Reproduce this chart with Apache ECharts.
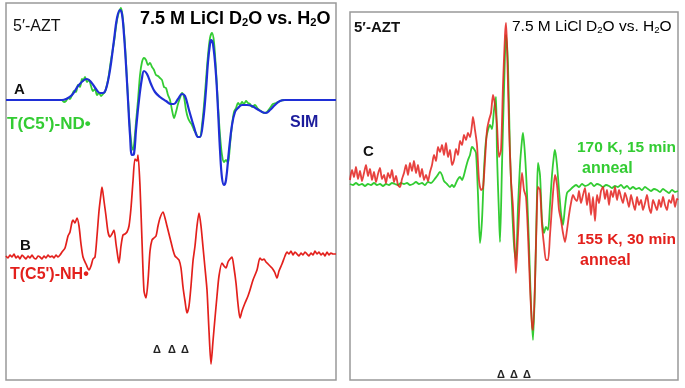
<!DOCTYPE html>
<html>
<head>
<meta charset="utf-8">
<script src="https://cdn.jsdelivr.net/npm/echarts@6/dist/echarts.min.js"></script>
<style>
  html, body { margin: 0; padding: 0; background: #fff; }
  #chart { width: 685px; height: 388px; }
</style>
</head>
<body>
<div id="chart"></div>
<script>
// --- ESR spectra: [field (arb.), amplitude (arb.)] ---

// left panel, spectrum A: simulation (blue) and D2O experiment (green)
const simA = [[6,0],[62,0],[66,1],[72,5],[78,14],[84,20],[87,21],[91,18],[96,11],[100,7],[103,7],[106,11],[110,30],[114,60],[117,82],[120,90],[122,86],[124,65],[126,35],[128,0],[130,-35],[132,-55],[134,-54],[136,-30],[139,0],[142,22],[144,29],[147,26],[151,16],[155,8],[160,3],[166,-1],[171,-4],[174,-4],[178,1],[182,6],[185,4],[189,-10],[194,-27],[198,-37],[200,-37],[203,-22],[206,10],[208,38],[210,56],[211,60],[213,56],[216,25],[218,-10],[220,-50],[222,-78],[224,-85],[226,-80],[229,-50],[232,-25],[235,-12],[238,-8],[242,-5],[247,-5],[252,-6],[257,-9],[262,-12],[266,-13],[270,-10],[275,-5],[280,-1],[285,0],[336,0]];

const d2oA = [[62,0],[64,-2],[66,-1],[68,2],[70,1],[72,5],[74,9],[76,8],[78,15],[80,13],[82,21],[83,19],[85,23],[87,18],[89,20],[91,14],[93,9],[95,11],[97,5],[99,7],[101,4],[103,6],[105,8],[108,20],[111,40],[114,58],[117,80],[119,88],[121,92],[123,80],[125,55],[127,20],[129,-15],[131,-40],[133,-50],[134,-45],[136,-22],[138,0],[140,25],[142,38],[144,42],[146,40],[148,35],[150,37],[152,33],[154,30],[156,25],[158,24],[160,22],[162,20],[164,13],[166,12],[168,5],[170,0],[172,-10],[174,-18],[176,-12],[178,-4],[180,2],[182,7],[184,3],[186,-10],[188,-18],[190,-22],[192,-25],[194,-30],[196,-33],[198,-37],[200,-37],[202,-25],[204,-5],[206,20],[208,45],[210,62],[212,67],[214,58],[216,30],[218,-5],[220,-35],[222,-55],[224,-62],[226,-60],[228,-63],[230,-45],[232,-25],[234,-12],[236,-8],[238,-3],[240,-5],[242,-2],[244,-4],[246,-1],[248,-3],[250,-4],[252,-7],[255,-5],[258,-9],[261,-11],[264,-13],[267,-12],[270,-8],[273,-4],[276,-3],[280,-1],[284,0]];

// left panel, spectrum B: H2O experiment (red)
const h2oB = [[6,0],[8,-2],[10,1],[12,-1],[14,2],[16,-2],[18,0],[20,-3],[22,1],[24,-1],[26,-3],[28,0],[30,-2],[32,1],[34,-2],[36,-3],[38,0],[40,-1],[42,-3],[44,0],[46,-2],[48,1],[50,-1],[52,0],[54,-2],[56,1],[58,-1],[60,1],[62,4],[65,8],[68,20],[70,24],[72,34],[73,36],[75,33],[77,38],[79,30],[81,12],[83,-1],[86,-8],[89,-14],[91,-10],[93,-3],[95,-1],[97,20],[99,45],[101,62],[102,69],[104,55],[106,40],[108,24],[110,19],[112,22],[114,26],[116,12],[118,-2],[119,-7],[121,10],[123,21],[125,22],[127,24],[129,30],[131,48],[133,75],[135,97],[137,95],[138,101],[140,70],[142,15],[144,-35],[146,-42],[148,-25],[150,5],[152,16],[154,18],[156,20],[158,30],[160,38],[163,44],[165,38],[167,30],[169,22],[171,14],[173,6],[175,0],[177,-2],[179,-4],[181,-12],[183,-31],[185,-45],[187,-57],[189,-50],[191,-30],[193,-5],[195,10],[197,30],[199,43],[201,30],[203,9],[205,-12],[207,-34],[209,-75],[211,-108],[213,-85],[215,-62],[217,-40],[219,-20],[222,-7],[224,-10],[226,-12],[228,-6],[230,-3],[232,-1],[234,-12],[236,-27],[238,-48],[240,-62],[242,-55],[245,-47],[248,-40],[250,-34],[253,-24],[257,-14],[260,-2],[262,-4],[264,-3],[266,-6],[268,-8],[270,-10],[272,-12],[274,-15],[275,-17],[277,-22],[279,-15],[282,-8],[285,0],[287,4],[289,2],[291,5],[293,1],[295,4],[297,2],[299,0],[301,3],[303,1],[305,4],[307,2],[309,0],[311,3],[313,1],[315,5],[317,2],[319,4],[321,1],[323,3],[325,0],[327,4],[329,1],[331,3],[333,2],[336,2]];

// right panel, spectrum C: 170 K / 15 min anneal (green) and 155 K / 30 min anneal (red)
const anneal170 = [[350,1],[353,0],[356,2],[359,0],[362,1],[365,-1],[368,1],[371,0],[374,2],[377,0],[380,1],[383,-1],[386,1],[389,0],[392,2],[395,1],[398,0],[401,2],[404,1],[407,2],[410,0],[413,1],[416,3],[419,1],[422,2],[425,0],[428,3],[431,2],[434,5],[437,9],[440,13],[442,10],[444,4],[447,1],[450,-2],[452,0],[454,-2],[456,2],[458,6],[460,8],[462,5],[464,10],[466,18],[468,25],[470,30],[472,38],[474,36],[476,32],[478,-10],[480,-58],[482,-35],[484,15],[486,45],[488,55],[490,60],[492,56],[494,75],[496,88],[497,30],[499,-30],[500,-57],[502,20],[504,95],[506,150],[508,120],[510,32],[512,-20],[514,-60],[516,-75],[518,-22],[520,20],[522,45],[523,52],[525,30],[527,-8],[529,-60],[531,-120],[533,-155],[535,-100],[537,-10],[538,22],[540,10],[542,-35],[544,-48],[546,-42],[548,-45],[550,-20],[552,10],[554,30],[555,35],[557,20],[559,-5],[561,-28],[563,-40],[565,-22],[567,-8],[570,-5],[573,-2],[576,0],[579,-2],[582,1],[585,-1],[588,0],[591,2],[594,-1],[597,1],[600,0],[603,-2],[606,0],[609,-1],[612,-3],[615,-1],[618,-2],[621,0],[624,-3],[627,-1],[630,-4],[633,-2],[636,-4],[639,-3],[642,-5],[645,-2],[648,-4],[651,-6],[654,-4],[657,-5],[660,-7],[663,-4],[666,-6],[669,-8],[672,-5],[675,-7],[678,-6]];

const anneal155 = [[350,5],[352,15],[354,8],[356,18],[358,6],[360,14],[362,4],[364,12],[366,20],[368,9],[370,16],[372,5],[374,13],[376,3],[378,11],[380,17],[382,6],[384,10],[386,2],[388,12],[390,7],[392,15],[394,3],[396,9],[398,0],[400,-2],[402,6],[404,12],[406,20],[408,10],[410,22],[412,14],[414,24],[416,12],[418,20],[420,8],[422,16],[424,5],[426,10],[428,4],[430,13],[432,20],[434,30],[436,24],[438,38],[440,33],[442,40],[444,30],[446,42],[448,28],[450,35],[452,20],[454,25],[456,36],[458,30],[460,44],[462,40],[464,50],[466,45],[468,52],[470,48],[472,60],[473,68],[475,55],[477,40],[479,5],[481,-5],[483,-3],[485,25],[487,55],[489,65],[491,72],[493,90],[495,80],[497,60],[499,28],[501,35],[503,100],[505,150],[506,162],[507,140],[509,60],[511,5],[513,-22],[515,-70],[516,-88],[518,-50],[520,-10],[522,12],[524,-5],[526,-12],[528,-50],[530,-102],[532,-140],[533,-145],[535,-98],[537,-20],[538,-2],[540,-5],[542,-40],[544,-60],[546,-75],[548,-75],[550,-50],[552,-22],[555,10],[557,0],[559,-25],[561,-35],[563,-48],[565,-57],[567,-45],[569,-30],[571,-18],[573,-10],[575,-14],[577,-16],[579,-6],[581,-18],[583,-10],[585,-3],[587,-20],[589,-8],[591,-30],[593,-12],[595,-36],[597,-10],[599,-18],[601,-6],[603,-2],[605,-14],[607,-5],[609,-20],[611,-6],[613,-12],[615,-2],[617,-15],[619,-5],[621,-12],[623,-18],[625,-8],[627,-14],[629,-22],[631,-10],[633,-18],[635,-25],[637,-12],[639,-20],[641,-15],[643,-25],[645,-18],[647,-10],[649,-22],[651,-28],[653,-15],[655,-20],[657,-25],[659,-15],[661,-22],[663,-12],[665,-20],[667,-25],[669,-15],[671,-18],[673,-10],[675,-22],[677,-14],[678,-15]];

// vertical offset that stacks spectrum A above spectrum B
const offsetA = 156;

const GREEN = '#33cc33';
const RED = '#e3201c';
const NAVY = '#1c1c9c';
const BLUE = '#1f2fd6';

const shift = (arr, dy) => arr.map(p => [p[0], p[1] + dy]);

const chart = echarts.init(document.getElementById('chart'), null, { renderer: 'canvas' });

// title with D2O / H2O subscripts
const titleRich = (size, weight) => ({
  k: { fontSize: size, fontWeight: weight, color: '#111', lineHeight: 20, verticalAlign: 'bottom', fontFamily: 'Liberation Sans' },
  g: { fontSize: size, fontWeight: weight, color: GREEN, lineHeight: 20, verticalAlign: 'bottom', fontFamily: 'Liberation Sans' },
  gs: { fontSize: size * 0.62, fontWeight: weight, color: GREEN, lineHeight: 8, verticalAlign: 'bottom', fontFamily: 'Liberation Sans' },
  r: { fontSize: size, fontWeight: weight, color: RED, lineHeight: 20, verticalAlign: 'bottom', fontFamily: 'Liberation Sans' },
  rs: { fontSize: size * 0.62, fontWeight: weight, color: RED, lineHeight: 8, verticalAlign: 'bottom', fontFamily: 'Liberation Sans' }
});
const titleText = '{k|7.5 M LiCl }{g|D}{gs|2}{g|O}{k| vs. }{r|H}{rs|2}{r|O}';

const label = (x, y, text, color, size, weight) => ({
  type: 'text',
  x: x,
  y: y,
  style: {
    text: text,
    fill: color,
    font: (weight || 'normal') + ' ' + size + 'px "Liberation Sans", Arial, sans-serif',
    verticalAlign: 'middle'
  },
  z: 100
});

const option = {
  backgroundColor: '#fff',
  animation: false,
  grid: [
    { left: 6, top: 3, width: 330, height: 377, show: true, borderColor: '#999', borderWidth: 1.5, backgroundColor: 'transparent' },
    { left: 350, top: 12, width: 328, height: 368, show: true, borderColor: '#999', borderWidth: 1.5, backgroundColor: 'transparent' }
  ],
  xAxis: [
    { type: 'value', gridIndex: 0, min: 6, max: 336, show: false },
    { type: 'value', gridIndex: 1, min: 350, max: 678, show: false }
  ],
  yAxis: [
    { type: 'value', gridIndex: 0, min: -124, max: 253, show: false },
    { type: 'value', gridIndex: 1, min: -195, max: 173, show: false }
  ],
  series: [
    {
      name: 'T(C5\')-ND• (D2O)', type: 'line', xAxisIndex: 0, yAxisIndex: 0,
      data: shift(d2oA, offsetA), showSymbol: false, smooth: 0.3,
      lineStyle: { color: GREEN, width: 1.8 }
    },
    {
      name: 'SIM', type: 'line', xAxisIndex: 0, yAxisIndex: 0,
      data: shift(simA, offsetA), showSymbol: false, smooth: 0.4,
      lineStyle: { color: BLUE, width: 2.2 }
    },
    {
      name: 'T(C5\')-NH• (H2O)', type: 'line', xAxisIndex: 0, yAxisIndex: 0,
      data: h2oB, showSymbol: false, smooth: 0.25,
      lineStyle: { color: RED, width: 1.7 }
    },
    {
      name: '170 K, 15 min anneal', type: 'line', xAxisIndex: 1, yAxisIndex: 1,
      data: anneal170, showSymbol: false, smooth: 0.25,
      lineStyle: { color: GREEN, width: 1.8 }
    },
    {
      name: '155 K, 30 min anneal', type: 'line', xAxisIndex: 1, yAxisIndex: 1,
      data: anneal155, showSymbol: false, smooth: 0.25,
      lineStyle: { color: RED, width: 1.8, opacity: 0.85 }
    }
  ],
  graphic: [
    // left panel
    label(13, 27, '5\u2032-AZT', '#111', 16, 'normal'),
    { type: 'text', x: 140, y: 8, z: 100, style: { text: titleText, rich: titleRich(18, 'bold') } },
    label(14, 90, 'A', '#111', 15, 'bold'),
    label(7, 124, 'T(C5\')-ND\u2022', GREEN, 17, 'bold'),
    label(290, 123, 'SIM', NAVY, 16, 'bold'),
    label(20, 246, 'B', '#111', 15, 'bold'),
    label(10, 275, 'T(C5\')-NH\u2022', RED, 16, 'bold'),
    label(153, 350, '\u0394', '#222', 11, 'bold'),
    label(168, 350, '\u0394', '#222', 11, 'bold'),
    label(181, 350, '\u0394', '#222', 11, 'bold'),
    // right panel
    label(354, 28, '5\u2032-AZT', '#111', 15, 'bold'),
    { type: 'text', x: 512, y: 15, z: 100, style: { text: titleText, rich: titleRich(15.5, 'normal') } },
    label(363, 152, 'C', '#111', 15, 'bold'),
    label(577, 148, '170 K, 15 min', GREEN, 15.5, 'bold'),
    label(582, 169, 'anneal', GREEN, 16, 'bold'),
    label(577, 240, '155 K, 30 min', RED, 15.5, 'bold'),
    label(580, 261, 'anneal', RED, 16, 'bold'),
    label(497, 375, '\u0394', '#222', 11, 'bold'),
    label(510, 375, '\u0394', '#222', 11, 'bold'),
    label(523, 375, '\u0394', '#222', 11, 'bold')
  ]
};

chart.setOption(option);
</script>
</body>
</html>
